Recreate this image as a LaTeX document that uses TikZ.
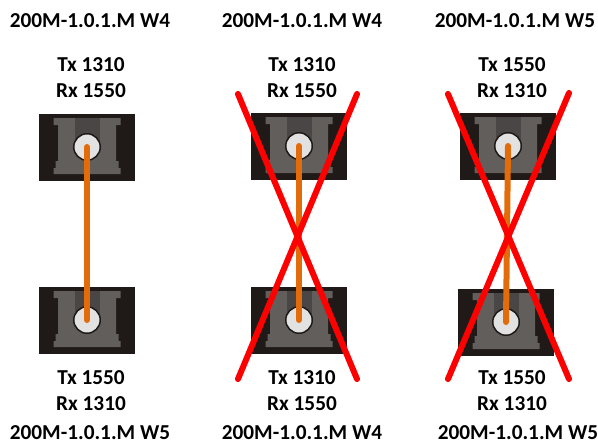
\documentclass[tikz,border=0pt]{standalone}
\usepackage{fontspec}
\setmainfont{Carlito}[BoldFont=Carlito Bold]
\usetikzlibrary{positioning}
\definecolor{portblack}{HTML}{1F1A17}
\definecolor{portgrey}{HTML}{625E5B}
\definecolor{portshade}{HTML}{4A4645}
\definecolor{holegrey}{HTML}{E2E2E2}
\definecolor{fibre}{HTML}{E36C0A}
\tikzset{
    titel/.style={
           font=\bfseries\fontsize{12.1}{13}\selectfont,
           inner sep=0pt},
    wave/.style={
           font=\bfseries\fontsize{12.1}{14.75}\selectfont,
           align=center,
           inner sep=0pt},
    fibreline/.style={
           draw=fibre,
           line width=0.12cm,
           line cap=round},
    cross/.style={
           draw=red,
           line width=0.12cm,
           line cap=round},
    port/.pic={
           \fill[portblack] (-0.96,-0.67) rectangle (0.96,0.67);
           \fill[portgrey] (-0.67,0.58) -- (0.67,0.58) -- (0.67,0.44) -- (0.58,0.44) -- (0.58,-0.28)
               -- (0.63,-0.28) -- (0.63,-0.42) -- (0.67,-0.42) -- (0.67,-0.54) -- (-0.67,-0.54)
               -- (-0.67,-0.42) -- (-0.63,-0.42) -- (-0.63,-0.28) -- (-0.58,-0.28)
               -- (-0.58,0.44) -- (-0.67,0.44) -- cycle;
           \fill[portshade] (-0.25,0.58) rectangle (0.25,0.05);
           \node[circle, draw=portblack, fill=holegrey, line width=0.03cm, minimum size=0.53cm, inner sep=0pt] (-hole) at (0,0) {};
    }
}

\begin{document}
\begin{tikzpicture}
    \useasboundingbox (0,0) rectangle (11.96,-8.88);
    % ports
    \pic (a1) at (1.74,-2.94) {port};
    \pic (a2) at (1.74,-6.40) {port};
    \pic (b1) at (5.98,-2.92) {port};
    \pic (b2) at (5.98,-6.40) {port};
    \pic (c1) at (10.16,-2.92) {port};
    \pic (c2) at (10.12,-6.44) {port};

    % titles
    \node[titel] (t1) at (1.80,-0.42) {200M-1.0.1.M W4};
    \node[titel] (t2) at (6.04,-0.42) {200M-1.0.1.M W4};
    \node[titel] (t3) at (10.30,-0.42) {200M-1.0.1.M W5};
    \node[titel] (t4) at (1.80,-8.66) {200M-1.0.1.M W5};
    \node[titel] (t5) at (6.04,-8.66) {200M-1.0.1.M W4};
    \node[titel] (t6) at (10.36,-8.66) {200M-1.0.1.M W5};

    % wavelengths
    \node[wave] (w1) at (1.82,-1.55) {Tx 1310\\Rx 1550};
    \node[wave] (w2) at (6.04,-1.55) {Tx 1310\\Rx 1550};
    \node[wave] (w3) at (10.24,-1.55) {Tx 1550\\Rx 1310};
    \node[wave] (w4) at (1.82,-7.82) {Tx 1550\\Rx 1310};
    \node[wave] (w5) at (6.04,-7.82) {Tx 1310\\Rx 1550};
    \node[wave] (w6) at (10.24,-7.82) {Tx 1550\\Rx 1310};

    % fibres
    \draw[fibreline] (a1-hole.center) -- (a2-hole.center);
    \draw[fibreline] (b1-hole.center) -- (b2-hole.center);
    \draw[fibreline] (c1-hole.center) -- (c2-hole.center);

    % crosses
    \coordinate (b-nw) at (4.76,-1.88);
    \coordinate (b-ne) at (7.14,-1.88);
    \coordinate (b-sw) at (4.76,-7.58);
    \coordinate (b-se) at (7.14,-7.58);
    \coordinate (c-nw) at (8.96,-1.88);
    \coordinate (c-ne) at (11.38,-1.86);
    \coordinate (c-sw) at (8.96,-7.58);
    \coordinate (c-se) at (11.38,-7.58);
    \draw[cross] (b-nw) -- (b-se);
    \draw[cross] (b-ne) -- (b-sw);
    \draw[cross] (c-nw) -- (c-se);
    \draw[cross] (c-ne) -- (c-sw);
\end{tikzpicture}
\end{document}
